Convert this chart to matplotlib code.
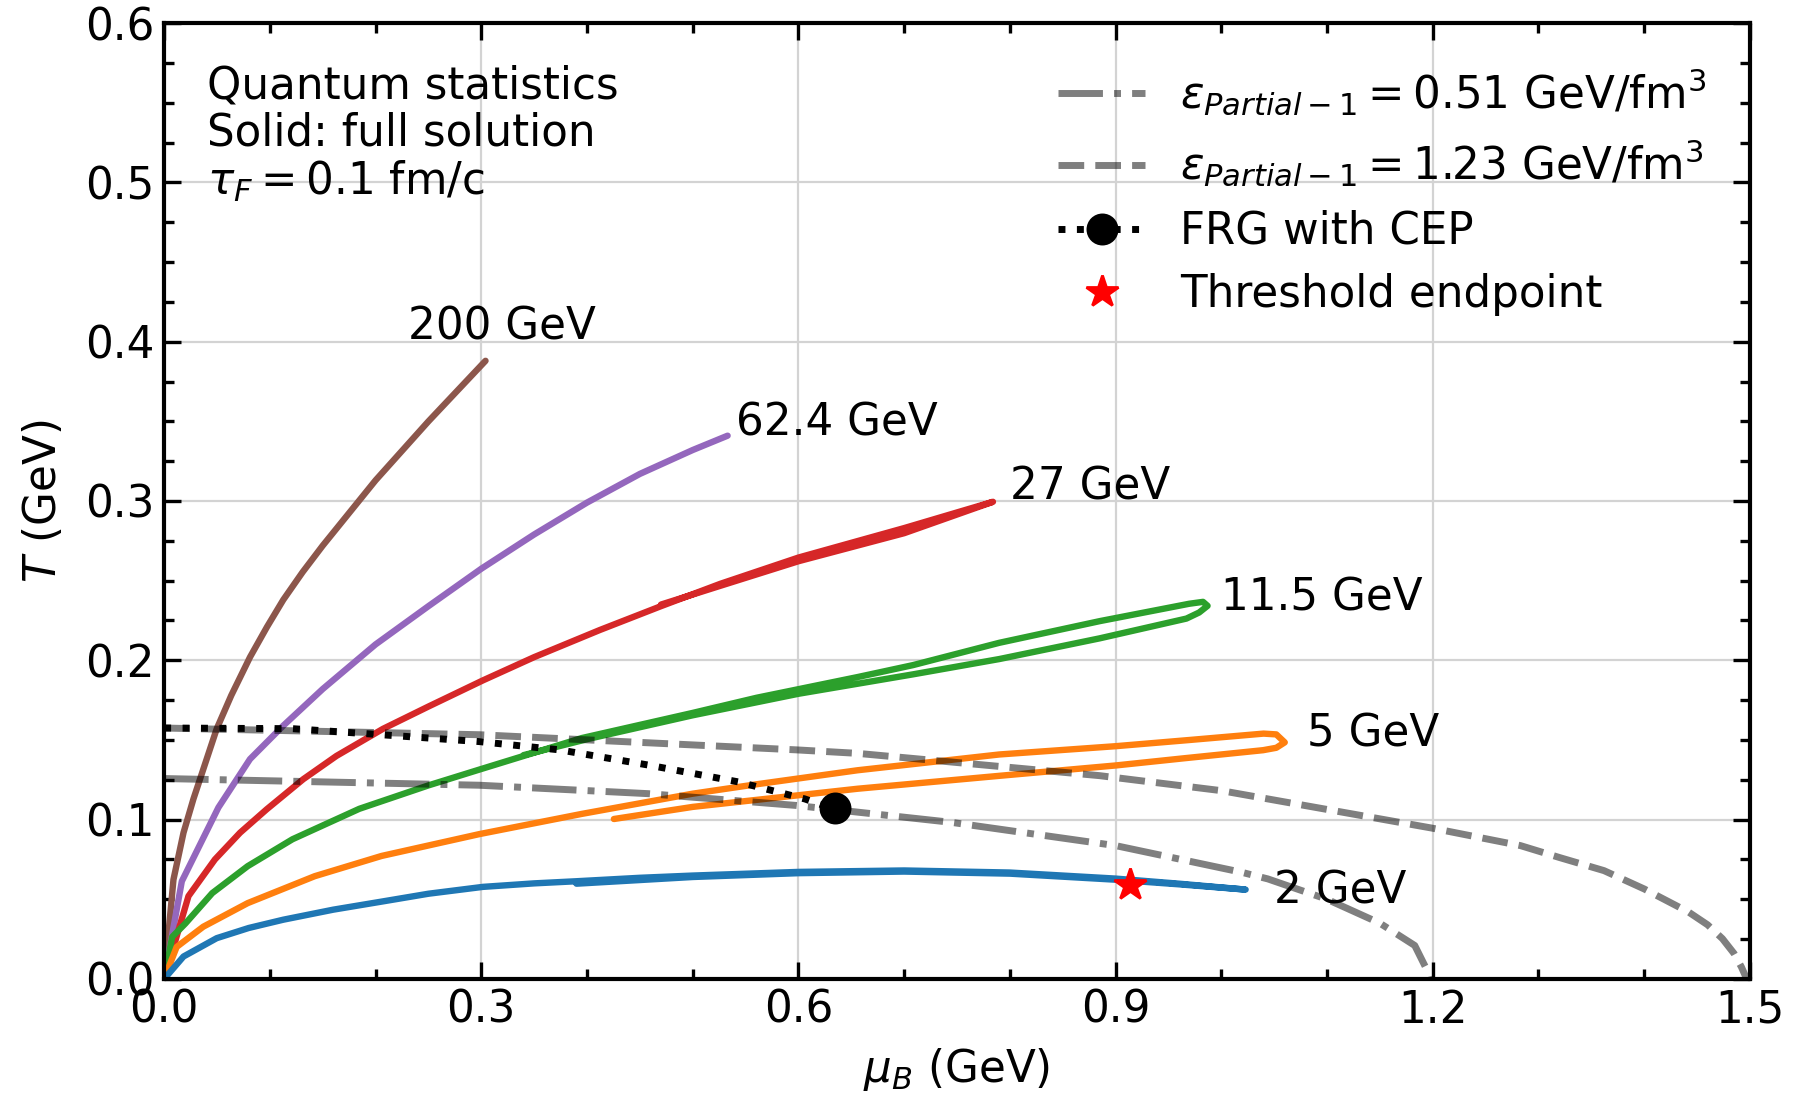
import matplotlib
matplotlib.use("Agg")
import matplotlib.pyplot as plt
from matplotlib.ticker import AutoMinorLocator
from matplotlib.lines import Line2D

# ---------------- data ----------------
# 200 GeV
mu_200 = [0.0, 0.0041, 0.0088, 0.0183, 0.0277, 0.0497, 0.0635, 0.0812, 0.0973, 0.1127, 0.131, 0.15, 0.2, 0.25, 0.304]
T_200 = [0.0, 0.0288, 0.0624, 0.0918, 0.113, 0.157, 0.178, 0.202, 0.221, 0.238, 0.2554, 0.272, 0.313, 0.350, 0.388]

# 62.4 GeV
mu_62 = [0.0, 0.0167, 0.0513, 0.0812, 0.1127, 0.15, 0.2, 0.25, 0.3, 0.35, 0.4, 0.45, 0.5, 0.533]
T_62 = [0.0, 0.0613, 0.1076, 0.138, 0.159, 0.182, 0.210, 0.234, 0.2575, 0.279, 0.299, 0.317, 0.332, 0.341]

# 27 GeV (out and back)
mu_27 = [0.0, 0.023, 0.048, 0.0718, 0.097, 0.1316, 0.163, 0.207, 0.25, 0.3015, 0.35, 0.412, 0.47, 0.526, 0.6, 0.7,
         0.784, 0.70, 0.6, 0.52, 0.47]
T_27 = [0.0, 0.052, 0.075, 0.0918, 0.1065, 0.1254, 0.140, 0.157, 0.171, 0.1874, 0.202, 0.219, 0.234, 0.248, 0.2645,
        0.2830, 0.2995, 0.2798, 0.2622, 0.2455, 0.2350]

# 11.5 GeV (loop)
mu_11 = [0.0, 0.0076, 0.0202, 0.0455, 0.079, 0.1214, 0.1846, 0.25, 0.3, 0.395, 0.50, 0.5604, 0.656, 0.7084,
         0.79, 0.885, 0.9696, 0.9827, 0.987,
         0.979, 0.967, 0.885, 0.79, 0.7084, 0.60, 0.50, 0.40, 0.34]
T_11 = [0.0, 0.0264, 0.0349, 0.0539, 0.0708, 0.0877, 0.1068, 0.1215, 0.1318, 0.1512, 0.167, 0.1765, 0.1895, 0.197,
        0.2110, 0.2246, 0.2355, 0.2367, 0.2342,
        0.2300, 0.2262, 0.2138, 0.2008, 0.1912, 0.1790, 0.1655, 0.1505, 0.1405]

# 5 GeV (loop)
mu_5 = [0.0, 0.0118, 0.037, 0.079, 0.1424, 0.2056, 0.298, 0.395, 0.50, 0.5604, 0.656, 0.79, 0.9, 0.97, 1.04,
        1.052, 1.060, 1.052, 1.0396, 0.9645, 0.9, 0.79, 0.656, 0.5, 0.4254]
T_5 = [0.0, 0.0201, 0.0328, 0.0476, 0.0645, 0.0772, 0.0909, 0.1036, 0.1163, 0.1222, 0.131, 0.1409, 0.1461, 0.150, 0.1540,
       0.1535, 0.1485, 0.1451, 0.1436, 0.1385, 0.1340, 0.1275, 0.1194, 0.1080, 0.1004]

# 2 GeV (out and back)
mu_2 = [0.0, 0.0183, 0.0497, 0.08, 0.1127, 0.16, 0.207, 0.25, 0.3015, 0.35, 0.389, 0.45, 0.5, 0.6, 0.7, 0.8, 0.9,
        0.96, 1.023, 0.96, 0.9, 0.8, 0.7, 0.6, 0.5, 0.39]
T_2 = [0.0, 0.0141, 0.0256, 0.032, 0.0372, 0.0435, 0.0487, 0.0535, 0.0578, 0.0600, 0.0613, 0.0635, 0.0649, 0.0672,
       0.0681, 0.0668, 0.0630, 0.0598, 0.0561, 0.0594, 0.0623, 0.0661, 0.0674, 0.0664, 0.0640, 0.0598]

# energy-density contours
mu_e051 = [0.0, 0.298, 0.458, 0.598, 0.7447, 0.9, 1.019, 1.044, 1.1, 1.15, 1.183, 1.195, 1.197]
T_e051 = [0.1258, 0.1216, 0.1163, 0.1089, 0.0983, 0.0837, 0.067, 0.0628, 0.050, 0.035, 0.021, 0.005, 0.0]
mu_e123 = [0.0, 0.298, 0.598, 0.656, 0.885, 1.0, 1.2, 1.283, 1.32, 1.362, 1.40, 1.442, 1.46, 1.474, 1.485, 1.492, 1.497]
T_e123 = [0.1575, 0.1533, 0.1438, 0.1416, 0.1276, 0.1182, 0.0946, 0.0837, 0.0762, 0.068, 0.0565, 0.042, 0.034, 0.0253,
          0.016, 0.0075, 0.0]

# FRG crossover line and CEP
mu_frg = [0.0, 0.1214, 0.197, 0.298, 0.374, 0.4585, 0.543, 0.606, 0.633]
T_frg = [0.1575, 0.1571, 0.1537, 0.149, 0.1438, 0.1342, 0.1237, 0.113, 0.1068]
cep_mu, cep_T = [0.635], [0.107]
star_mu, star_T = [0.9135], [0.0588]

energy_labels = ["200 GeV", "62.4 GeV", "27 GeV", "11.5 GeV", "5 GeV", "2 GeV"]
label_mu = [0.231, 0.541, 0.800, 1.000, 1.081, 1.050]
label_T = [0.409, 0.349, 0.309, 0.239, 0.154, 0.055]

x_ticks = [0.0, 0.3, 0.6, 0.9, 1.2, 1.5]
y_ticks = [0.0, 0.1, 0.2, 0.3, 0.4, 0.5, 0.6]

# ---------------- plot ----------------
FS = 15.7
plt.rcParams['font.family'] = ['DejaVu Sans']
plt.rcParams['mathtext.fontset'] = 'dejavusans'

fig = plt.figure(figsize=(9.02, 5.485), dpi=200)
ax = fig.add_axes([0.091, 0.1076, 0.879, 0.8714])

lw = 2.3
for mu, T, c in [(mu_200, T_200, '#8c564b'), (mu_62, T_62, '#9467bd'), (mu_27, T_27, '#d62728'),
                 (mu_11, T_11, '#2ca02c'), (mu_5, T_5, '#ff7f0e'), (mu_2, T_2, '#1f77b4')]:
    ax.plot(mu, T, color=c, lw=lw, solid_capstyle='round', solid_joinstyle='round')

ax.plot(mu_e051, T_e051, color='k', alpha=0.5, lw=2.5, ls='-.')
ax.plot(mu_e123, T_e123, color='k', alpha=0.5, lw=2.5, ls='--')
ax.plot(mu_frg, T_frg, color='k', lw=2.5, ls=':')
ax.plot(cep_mu, cep_T, 'o', color='k', ms=10.5)
ax.plot(star_mu, star_T, '*', color='red', ms=12, zorder=5)

for s, xm, ym in zip(energy_labels, label_mu, label_T):
    ax.text(xm, ym, s, fontsize=FS, ha='left', va='center')

ax.text(0.027, 0.957, "Quantum statistics\nSolid: full solution\n$\\tau_F = 0.1$ fm/c",
        transform=ax.transAxes, fontsize=FS, ha='left', va='top', linespacing=1.13)

handles = [
    Line2D([], [], color='k', alpha=0.5, lw=2.5, ls='-.'),
    Line2D([], [], color='k', alpha=0.5, lw=2.5, ls='--'),
    Line2D([], [], color='k', lw=2.5, ls=':', marker='o', ms=10.5),
    Line2D([], [], color='red', ls='none', marker='*', ms=12),
]
labels = [
    r'$\varepsilon_{Partial-1} = 0.51$ GeV/fm$^3$',
    r'$\varepsilon_{Partial-1} = 1.23$ GeV/fm$^3$',
    'FRG with CEP',
    'Threshold endpoint',
]
ax.legend(handles, labels, loc='upper right', frameon=False, fontsize=FS, labelspacing=0.47,
          borderaxespad=0.6)

ax.set_xlim(0, 1.5)
ax.set_ylim(0, 0.6)
ax.set_xticks(x_ticks)
ax.set_yticks(y_ticks)
ax.xaxis.set_minor_locator(AutoMinorLocator(3))
ax.yaxis.set_minor_locator(AutoMinorLocator(4))
ax.tick_params(which='both', direction='in', top=True, right=True, labelsize=FS, width=1.2)
ax.tick_params(which='major', length=6)
ax.tick_params(which='minor', length=3.5)
for sp in ax.spines.values():
    sp.set_linewidth(1.5)
ax.grid(True, which='major', color='#d3d3d3', lw=0.8)
ax.set_axisbelow(True)

ax.set_xlabel(r'$\mu_B$ (GeV)', fontsize=FS, labelpad=5)
ax.set_ylabel(r'$T$ (GeV)', fontsize=FS, labelpad=7)

fig.savefig('out.png', dpi=200)
